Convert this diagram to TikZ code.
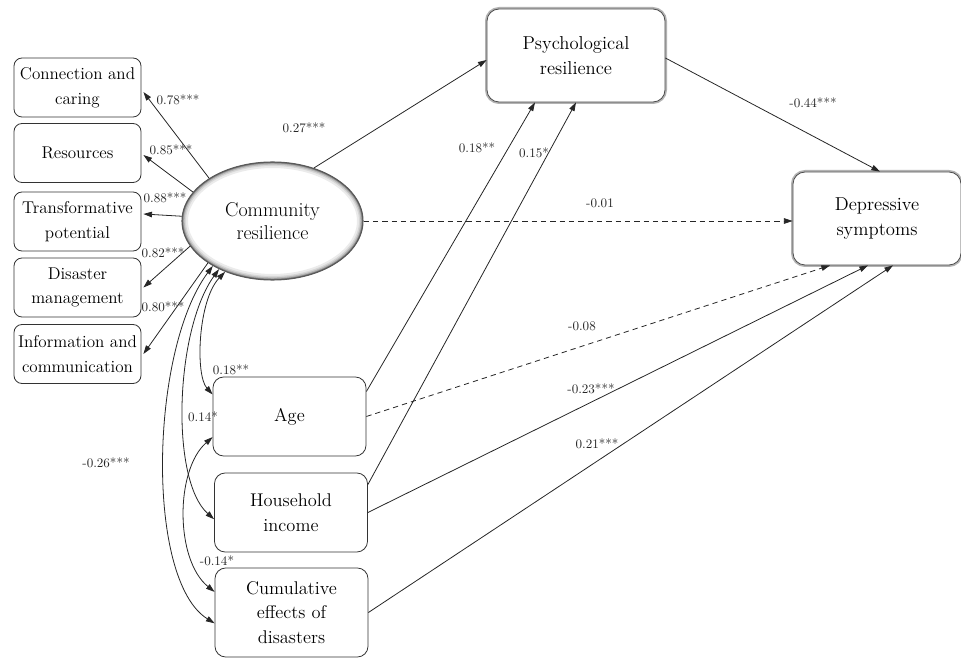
\documentclass[tikz,border=0pt]{standalone}
\usetikzlibrary{arrows.meta,calc,shapes.geometric}
\begin{document}
\begin{tikzpicture}[x=0.75pt,y=-0.75pt,
  ind/.style={draw=black!80, line width=0.6pt, rounded corners=6pt, minimum width=95.25pt, minimum height=44.25pt, align=center, inner sep=1pt, font=\fontsize{12.8}{18.5}\selectfont, text=black},
  obs/.style={draw=black!80, line width=0.6pt, rounded corners=8pt, minimum width=114.75pt, minimum height=59.25pt, align=center, inner sep=1pt, font=\fontsize{13.8}{18.5}\selectfont, text=black},
  big/.style={preaction={draw=black!30, line width=3pt}, draw=black!70, line width=0.6pt, rounded corners=9pt, minimum height=69.75pt, align=center, inner sep=1pt, font=\fontsize{14}{18.8}\selectfont, text=black, fill=white},
  lat/.style={ellipse, fill=white, draw=black!65, line width=0.8pt, minimum width=135.75pt, minimum height=88.5pt, align=center, inner sep=1pt, font=\fontsize{15}{17.5}\selectfont, text=black,
    path picture={\foreach \w/\c in {9pt/8,6pt/16,4pt/28,2.2pt/45,1pt/60}{\draw[black!\c, line width=\w] (path picture bounding box.center) ellipse [x radius=67.875pt, y radius=44.25pt];}}},
  lab/.style={font=\fontsize{9.8}{12}\selectfont, text=black!85, inner sep=0pt},
  path/.style={draw=black!85, line width=0.6pt, -{Triangle[length=6.5pt,width=4.2pt]}},
  dpath/.style={path, dash pattern=on 4pt off 3pt},
  cov/.style={draw=black!85, line width=0.6pt, {Triangle[length=6.5pt,width=4.2pt]}-{Triangle[length=6.5pt,width=4.2pt]}}
]
\useasboundingbox (0,0) rectangle (961,659);

% indicators
\node[ind] (cc) at (77.5,87.5) {Connection and\\caring};
\node[ind] (res) at (77.5,153) {Resources};
\node[ind] (tp) at (77.5,221.5) {Transformative\\potential};
\node[ind] (dm) at (77.5,287.5) {Disaster\\management};
\node[ind] (ic) at (77.5,354) {Information and\\communication};

% latent
\node[lat] (cr) at (272.5,221) {Community\\resilience};

% outcome boxes
\node[big, minimum width=133.5pt] (pr) at (576,55.5) {Psychological\\resilience};
\node[big, minimum width=126pt] (ds) at (877,218.5) {Depressive\\symptoms};

% observed covariates
\node[obs] (age) at (289.5,416.5) {Age};
\node[obs] (hi) at (291,512.5) {Household\\income};
\node[obs, minimum height=66.75pt] (ce) at (291.5,612.5) {Cumulative\\effects of\\disasters};

% loadings
\draw[path] (cr.146) -- ($(cc.east)+(2,4.5)$);
\draw[path] (cr.160) -- ($(res.east)+(2,2)$);
\draw[path] (cr.177) -- ($(tp.east)+(2,-7.5)$);
\draw[path] (cr.197) -- ($(dm.east)+(2,0)$);
\draw[path] (cr.213) -- ($(ic.east)+(2,0)$);

\node[lab] (l1) at (178,100) {0.78***};
\node[lab] (l2) at (171,150) {0.85***};
\node[lab] (l3) at (165,198) {0.88***};
\node[lab] (l4) at (163,253) {0.82***};
\node[lab] (l5) at (163,307) {0.80***};

% structural paths
\draw[path] (cr.52) -- ($(pr.west)+(0,4.5)$);
\draw[path] ($(pr.east)+(0,2.5)$) -- ($(ds.north)+(3,0)$);
\draw[dpath] (cr.east) -- (cr.east -| ds.west);
\draw[path] (age.18) -- ($(pr.south)+(-41,0)$);
\draw[path] (hi.20) -- (pr.south);
\draw[dpath] (age.east) -- ($(ds.south)+(-47,0)$);
\draw[path] (hi.east) -- ($(ds.south)+(-9,0)$);
\draw[path] (ce.east) -- ($(ds.south)+(16,0)$);

\node[lab] (l6) at (304,128) {0.27***};
\node[lab] (l7) at (813,103) {-0.44***};
\node[lab] (l8) at (600,203) {-0.01};
\node[lab] (l9) at (477,148) {0.18**};
\node[lab] (l10) at (534,153) {0.15*};
\node[lab] (l11) at (582,326) {-0.08};
\node[lab] (l12) at (591,389) {-0.23***};
\node[lab] (l13) at (597,444) {0.21***};

% covariances
\draw[cov] (cr.227) .. controls (198,300) and (195,375) .. (age.164);
\draw[cov] (cr.222) .. controls (175,330) and (170,480) .. (hi.185);
\draw[cov] (cr.217) .. controls (150,350) and (145,580) .. (ce.188);
\draw[cov] (age.195) .. controls (175,470) and (175,560) .. (ce.165);

\node[lab] (l14) at (231,370) {0.18**};
\node[lab] (l15) at (203,417) {0.14*};
\node[lab] (l16) at (106,463) {-0.26***};
\node[lab] (l17) at (217,561) {-0.14*};
\end{tikzpicture}
\end{document}
